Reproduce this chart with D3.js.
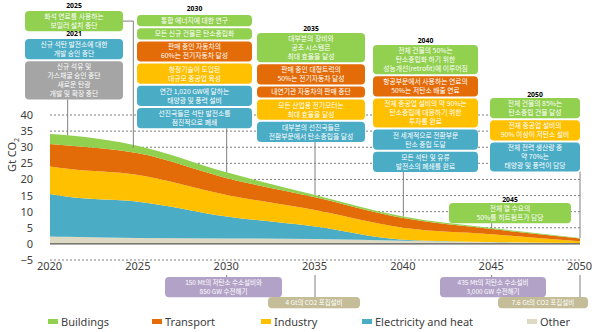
<!DOCTYPE html>
<html>
<head>
<meta charset="utf-8">
<script src="https://cdn.jsdelivr.net/npm/d3@7/dist/d3.min.js"></script>
<style>
body{margin:0;background:#fff;}
svg{display:block;}
</style>
</head>
<body>
<div id="chart"></div>
<script>
// 연도별 부문 배출량 (Gt CO2)
var years = [2020, 2021, 2025, 2030, 2035, 2040, 2045, 2050];
var other = [2.3, 2.2, 1.8, 1.7, 1.5, 1.0, 0.6, 0.3];
var electricity = [13.2, 12.4, 11.3, 6.8, 3.9, 0.3, 0.0, 0.0];
var industry = [8.5, 8.7, 8.3, 6.7, 5.1, 3.7, 2.4, 0.5];
var transport = [7.0, 7.2, 6.7, 5.2, 4.0, 3.0, 1.6, 0.9];
var buildings = [3.1, 3.2, 2.3, 1.8, 0.7, 0.5, 0.3, 0.1];

var sectors = ["Other", "Electricity and heat", "Industry", "Transport", "Buildings"];
var legendOrder = ["Buildings", "Transport", "Industry", "Electricity and heat", "Other"];
var yTicks = [-5, 0, 5, 10, 15, 20, 25, 30, 35, 40];
var xTicks = [2020, 2025, 2030, 2035, 2040, 2045, 2050];

// 이정표 (상단)
var milestones = [
	{label:"2025", year:2025, notes:[
		{kind:"Buildings", lines:["화석 연료를 사용하는","보일러 설치 중단"]}
	]},
	{label:"2021", year:2021, notes:[
		{kind:"Electricity and heat", lines:["신규 석탄 발전소에 대한","개발 승인 중단"]},
		{kind:"Fossil", lines:["신규 석유 및","가스채굴 승인 중단","새로운 탄광","개발 및 확장 중단"]}
	]},
	{label:"2030", year:2030, notes:[
		{kind:"Buildings", lines:["통합 에너지에 대한 연구"]},
		{kind:"Buildings", lines:["모든 신규 건물은 탄소중립화"]},
		{kind:"Transport", lines:["판매 중인 자동차의","60%는 전기자동차 달성"]},
		{kind:"Industry", lines:["청정기술이 도입된","대규모 중공업 육성"]},
		{kind:"Electricity and heat", lines:["연간 1,020 GW에 달하는","태양광 및 풍력 설비"]},
		{kind:"Electricity and heat", lines:["선진국들은 석탄 발전소를","점진적으로 폐쇄"]}
	]},
	{label:"2035", year:2035, notes:[
		{kind:"Buildings", lines:["대부분의 장비와","공조 시스템은","최대 효율을 달성"]},
		{kind:"Transport", lines:["판매 중인 대형트럭의","50%는 전기자동차 달성"]},
		{kind:"Transport", lines:["내연기관 자동차의 판매 중단"]},
		{kind:"Industry", lines:["모든 산업용 전기모터는","최대 효율을 달성"]},
		{kind:"Electricity and heat", lines:["대부분의 선진국들은","전환부문에서 탄소중립을 달성"]}
	]},
	{label:"2040", year:2040, notes:[
		{kind:"Buildings", lines:["전체 건물의 50%는","탄소중립화 하기 위한","성능개선(retrofit)에 이루어짐"]},
		{kind:"Transport", lines:["항공부문에서 사용하는 연료의","50%는 저탄소 배출 연료"]},
		{kind:"Industry", lines:["전체 중공업 설비의 약 90%는","탄소중립에 대응하기 위한","투자를 완료"]},
		{kind:"Electricity and heat", lines:["전 세계적으로 전환부문","탄소 중립 도달"]},
		{kind:"Electricity and heat", lines:["모든 석탄 및 유류","발전소의 폐쇄를 완료"]}
	]},
	{label:"2050", year:2050, notes:[
		{kind:"Buildings", lines:["전체 건물의 85%는","탄소중립 건물 달성"]},
		{kind:"Industry", lines:["전체 중공업 설비의","90% 이상이 저탄소 설비"]},
		{kind:"Electricity and heat", lines:["전체 전력 생산량 중","약 70%는","태양광 및 풍력이 담당"]}
	]},
	{label:"2045", year:2045, notes:[
		{kind:"Buildings", lines:["전체 열 수요의","50%를 히트펌프가 담당"]}
	]}
];

// 이정표 (하단)
var infraNotes = [
	{year:2030, kind:"Hydrogen", lines:["150 Mt의 저탄소 수소설비와","850 GW 수전해기"]},
	{year:2035, kind:"CCS", lines:["4 Gt의 CO2 포집설비"]},
	{year:2045, kind:"Hydrogen", lines:["435 Mt의 저탄소 수소설비","3,000 GW 수전해기"]},
	{year:2050, kind:"CCS", lines:["7.6 Gt의 CO2 포집설비"]}
];

var colors = {
	"Buildings":"#92d050",
	"Transport":"#e36c09",
	"Industry":"#ffc000",
	"Electricity and heat":"#4bacc6",
	"Other":"#ddd9c3",
	"Fossil":"#a5a5a5",
	"Hydrogen":"#b3a2c7",
	"CCS":"#c4bd97"
};

var width = 600, height = 332;
var x = d3.scaleLinear().domain([2020, 2050]).range([50, 580]);
var y = d3.scaleLinear().domain([-5, 40]).range([260, 115]);

var svg = d3.select("#chart").append("svg")
	.attr("width", width)
	.attr("height", height)
	.style("font-family", "'Noto Sans', 'Noto Sans CJK KR', sans-serif");

/** 데이터가공 **/
var table = years.map(function(yr, i){
	return {"year":yr, "Other":other[i], "Electricity and heat":electricity[i],
		"Industry":industry[i], "Transport":transport[i], "Buildings":buildings[i]};
});
var series = d3.stack().keys(sectors)(table);
var totalAt = function(yr){
	var i = years.indexOf(yr);
	return d3.sum(sectors, function(k){ return table[i][k]; });
};

// 격자선
svg.append("g").selectAll("line")
	.data(yTicks.filter(function(d){ return d !== 0; }))
	.enter().append("line")
	.attr("x1", x(2020)).attr("x2", x(2050))
	.attr("y1", function(d){ return y(d); })
	.attr("y2", function(d){ return y(d); })
	.attr("stroke", "#7f7f7f")
	.attr("stroke-width", 1)
	.attr("stroke-dasharray", "2,2");

// 영역
var area = d3.area()
	.curve(d3.curveMonotoneX)
	.x(function(d){ return x(d.data.year); })
	.y0(function(d){ return y(d[0]); })
	.y1(function(d){ return y(d[1]); });

svg.append("g").selectAll("path")
	.data(series)
	.enter().append("path")
	.attr("d", area)
	.style("fill", function(d){ return colors[d.key]; });

// 0 기준선
svg.append("line")
	.attr("x1", x(2020)).attr("x2", x(2050))
	.attr("y1", y(0)).attr("y2", y(0))
	.attr("stroke", "#595959").attr("stroke-width", 1.2);

// 축 라벨
var yAxis = d3.axisLeft(y).tickValues(yTicks).tickSize(0).tickPadding(0);
svg.append("g")
	.attr("transform", "translate(33,0)")
	.call(yAxis)
	.call(function(g){ g.select(".domain").remove(); })
	.selectAll("text")
	.attr("font-size", "11px")
	.attr("font-family", "'Noto Sans', sans-serif")
	.style("fill", "#404040");

var xAxis = d3.axisBottom(x).tickValues(xTicks).tickFormat(d3.format("d")).tickSize(0).tickPadding(0);
svg.append("g")
	.attr("transform", "translate(-1,262)")
	.call(xAxis)
	.call(function(g){ g.select(".domain").remove(); })
	.selectAll("text")
	.attr("font-size", "11px")
	.attr("font-family", "'Noto Sans', sans-serif")
	.style("fill", "#404040");

var yLabel = svg.append("text")
	.attr("transform", "translate(16,155) rotate(-90)")
	.attr("text-anchor", "middle")
	.attr("font-size", "11px")
	.style("fill", "#404040");
yLabel.append("tspan").text("Gt CO");
yLabel.append("tspan").attr("font-size", "7px").attr("dy", 3).text("2");

// 상자 그리기
var lineH = 9;
var boxH = function(n){ return n * lineH + 2.2; };
var drawBox = function(g, x0, y0, w, note, fs){
	var h = boxH(note.lines.length);
	g.append("rect")
		.attr("x", x0).attr("y", y0)
		.attr("width", w).attr("height", h)
		.attr("rx", 4).attr("ry", 4)
		.style("fill", colors[note.kind]);
	var t = g.append("g")
		.attr("font-family", "'Noto Sans CJK KR', sans-serif")
		.attr("font-size", fs || "6.8px");
	t.selectAll("text")
		.data(note.lines)
		.enter().append("text")
		.attr("text-anchor", "middle")
		.style("fill", "#fff")
		.attr("x", x0 + w / 2)
		.attr("y", function(d, i){ return y0 + 1.1 + lineH * i + lineH * 0.76; })
		.text(function(d){ return d; });
	return h;
};

// 상단 이정표 배치
var groupLayout = [
	{x:25, w:98, labelY:6, top:11, leader:"side"},
	{x:25, w:98, labelY:34, top:39, leader:"bottom"},
	{x:137, w:115, labelY:9, top:15, leader:"bottom"},
	{x:257, w:108, labelY:29, top:33, leader:"bottom"},
	{x:373, w:105, labelY:41, top:45, leader:"bottom"},
	{x:490, w:90, labelY:95, top:98, leader:"bottom"},
	{x:449, w:122, labelY:200, top:203, leader:"bottom"}
];

var leaderG = svg.append("g");
var boxG = svg.append("g");

milestones.forEach(function(m, gi){
	var L = groupLayout[gi];
	boxG.append("text")
		.attr("x", L.x + L.w / 2)
		.attr("y", L.labelY + 2.3)
		.attr("text-anchor", "middle")
		.attr("font-size", "6.8px")
		.attr("font-weight", "bold")
		.attr("font-family", "'Noto Sans', sans-serif")
		.style("fill", "#000")
		.text(m.label);
	var cy = L.top, firstH = 0;
	m.notes.forEach(function(n, ni){
		var h = drawBox(boxG, L.x, cy, L.w, n);
		if(ni === 0) firstH = h;
		cy += h + 2;
	});
	var lx = x(m.year), ly = y(totalAt(m.year));
	if(L.leader === "side"){
		var my = L.top + firstH / 2;
		leaderG.append("path")
			.attr("d", d3.line()([[L.x + L.w, my], [lx - 5, my], [lx - 5, ly + 2]]))
			.attr("fill", "none").attr("stroke", "#808080").attr("stroke-width", 1);
	}else{
		leaderG.append("line")
			.attr("x1", lx).attr("x2", lx)
			.attr("y1", cy - 2).attr("y2", ly)
			.attr("stroke", "#808080").attr("stroke-width", 1);
	}
});

// 하단 이정표 배치
var infraLayout = [
	{x:165, w:117, top:277},
	{x:268, w:92, top:297},
	{x:440, w:106, top:277},
	{x:498, w:90, top:297}
];
infraNotes.forEach(function(n, i){
	var L = infraLayout[i];
	leaderG.append("line")
		.attr("x1", x(n.year)).attr("x2", x(n.year))
		.attr("y1", 275).attr("y2", L.top)
		.attr("stroke", "#808080").attr("stroke-width", 1);
	drawBox(boxG, L.x, L.top, L.w, {kind:n.kind, lines:n.lines}, "6.5px");
});

// 범례
var legendX = [48, 152, 261, 362, 527];
var legend = svg.append("g").selectAll("g")
	.data(legendOrder)
	.enter().append("g")
	.attr("transform", function(d, i){ return "translate(" + legendX[i] + ",322)"; });
legend.append("rect")
	.attr("x", 0).attr("y", -3)
	.attr("width", 10).attr("height", 5)
	.style("fill", function(d){ return colors[d]; });
legend.append("text")
	.attr("x", 13).attr("y", 4)
	.attr("font-size", "11px")
	.style("fill", "#404040")
	.text(function(d){ return d; });
</script>
</body>
</html>
